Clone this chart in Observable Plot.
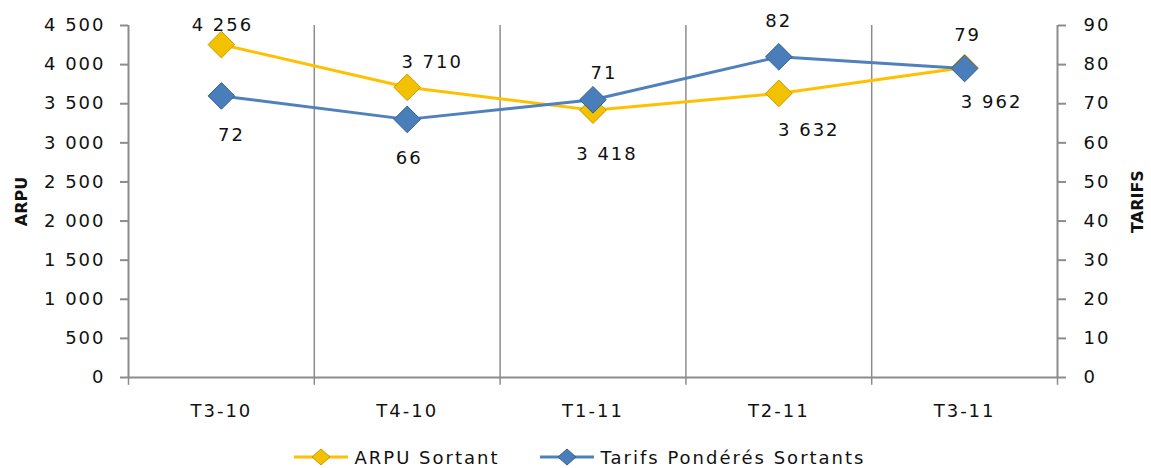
<!DOCTYPE html>
<html><head><meta charset="utf-8">
<script src="https://cdn.jsdelivr.net/npm/d3@7"></script>
<script src="https://cdn.jsdelivr.net/npm/@observablehq/plot@0.6"></script>
<style>
body{margin:0;background:#fff;font-family:"DejaVu Sans",sans-serif;position:relative;width:1151px;height:468px;overflow:hidden;}
#chart svg text{letter-spacing:2px;}
#chart svg g[font-weight="bold"] text{letter-spacing:0;}
#legend{position:absolute;left:0;top:446px;width:1151px;height:22px;display:flex;justify-content:center;align-items:center;font-size:18px;line-height:21px;letter-spacing:2px;color:#111;padding-left:8px;box-sizing:border-box;}
.item{display:flex;align-items:center;margin:0 20px;}
.item svg{margin-right:7px;}
</style></head>
<body><div id="chart"></div><div id="legend"></div>
<script>
const categories = ["T3-10","T4-10","T1-11","T2-11","T3-11"];
const arpu = [4256, 3710, 3418, 3632, 3962];
const tarifs = [72, 66, 71, 82, 79];
const arpuTicks = [0,500,1000,1500,2000,2500,3000,3500,4000,4500];
const tarifTicks = [0,10,20,30,40,50,60,70,80,90];
// label offsets (px) for data labels
const arpuLabelDx = [1, 25, 14, 30, 27];
const arpuLabelDy = [-19, -25, 44, 37, 35];
const tarifLabelDx = [10, 2, 11, 0, 3];
const tarifLabelDy = [39, 39, -27, -36, -33];

const ratio = 4500/90;
const idx = categories.map((_, i) => i);
const fmt = d => d3.format(",")(d).replace(/,/g, " ");
const yellow = "#FFC000", blue = "#4F81BD";
const font = {fontFamily: "DejaVu Sans", fontSize: 18};
const axisFont = {fontSize: 18, color: "#111"};

const labelMarks = [];
idx.forEach(i => {
  labelMarks.push(Plot.text([i], {x: d => d, y: d => arpu[d], text: d => fmt(arpu[d]), dx: arpuLabelDx[i], dy: arpuLabelDy[i], fill: "#111", ...font}));
  labelMarks.push(Plot.text([i], {x: d => d, y: d => tarifs[d] * ratio, text: d => String(tarifs[d]), dx: tarifLabelDx[i], dy: tarifLabelDy[i], fill: "#111", ...font}));
});

const boundaries = d3.range(0.5, categories.length - 1, 1);
const allBounds = [-0.5, ...boundaries, categories.length - 0.5];

const chart = Plot.plot({
  width: 1151, height: 430,
  marginLeft: 128, marginRight: 94, marginTop: 25, marginBottom: 53,
  style: {fontFamily: "DejaVu Sans", fontSize: "18px", color: "#111", overflow: "visible"},
  x: {type: "linear", domain: [-0.5, categories.length - 0.5]},
  y: {domain: [0, 4500]},
  marks: [
    Plot.ruleX(boundaries, {stroke: "#8c8c8c", strokeWidth: 1.5}),
    Plot.ruleX(allBounds, {y1: 0, y2: -100, stroke: "#8c8c8c", strokeWidth: 1.5}),
    Plot.ruleY([0], {stroke: "#8c8c8c", strokeWidth: 2}),
    Plot.ruleX([-0.5, categories.length - 0.5], {stroke: "#8c8c8c", strokeWidth: 2}),
    Plot.axisY({anchor: "left", ticks: arpuTicks, tickFormat: fmt, tickSize: 8, tickPadding: 15, label: null, stroke: "#8c8c8c", strokeWidth: 2, ...axisFont}),
    Plot.axisY({anchor: "right", ticks: tarifTicks.map(t => t * ratio), tickFormat: () => "", tickSize: 8, label: null, stroke: "#8c8c8c", strokeWidth: 2}),
    Plot.text(tarifTicks, {frameAnchor: "right", y: t => t * ratio, text: t => String(t), textAnchor: "start", dx: 26, fill: "#111", fontSize: 18}),
    Plot.axisX({ticks: idx, tickFormat: i => categories[i], tickSize: 0, tickPadding: 27, label: null, ...axisFont}),
    Plot.line(idx, {x: d => d, y: d => arpu[d], stroke: yellow, strokeWidth: 3}),
    Plot.dot(idx, {x: d => d, y: d => arpu[d], symbol: "diamond2", r: 12, fill: "#F2C100", stroke: "#C99A00", strokeWidth: 1}),
    Plot.line(idx, {x: d => d, y: d => tarifs[d] * ratio, stroke: blue, strokeWidth: 3}),
    Plot.dot(idx, {x: d => d, y: d => tarifs[d] * ratio, symbol: "diamond2", r: 12, fill: "#4A7EBB", stroke: "#35628F", strokeWidth: 1}),
    ...labelMarks,
    Plot.text(["ARPU"], {frameAnchor: "left", textAnchor: "middle", dx: -107, rotate: -90, text: d => d, fontWeight: "bold", fontSize: 16, fill: "#111"}),
    Plot.text(["TARIFS"], {frameAnchor: "right", textAnchor: "middle", dx: 80, rotate: -90, text: d => d, fontWeight: "bold", fontSize: 16, fill: "#111"})
  ]
});
document.getElementById("chart").appendChild(chart);

const legend = document.getElementById("legend");
[["ARPU Sortant", yellow, "#F2C100", "#C99A00"], ["Tarifs Pondérés Sortants", blue, "#4A7EBB", "#35628F"]].forEach(([label, line, fill, stroke]) => {
  const item = document.createElement("div");
  item.className = "item";
  item.innerHTML = `<svg width="54" height="20"><line x1="0" y1="10" x2="54" y2="10" stroke="${line}" stroke-width="3"/><path d="M27,2 L36,10 L27,18 L18,10Z" fill="${fill}" stroke="${stroke}"/></svg><span>${label}</span>`;
  legend.appendChild(item);
});
</script>
</body></html>
